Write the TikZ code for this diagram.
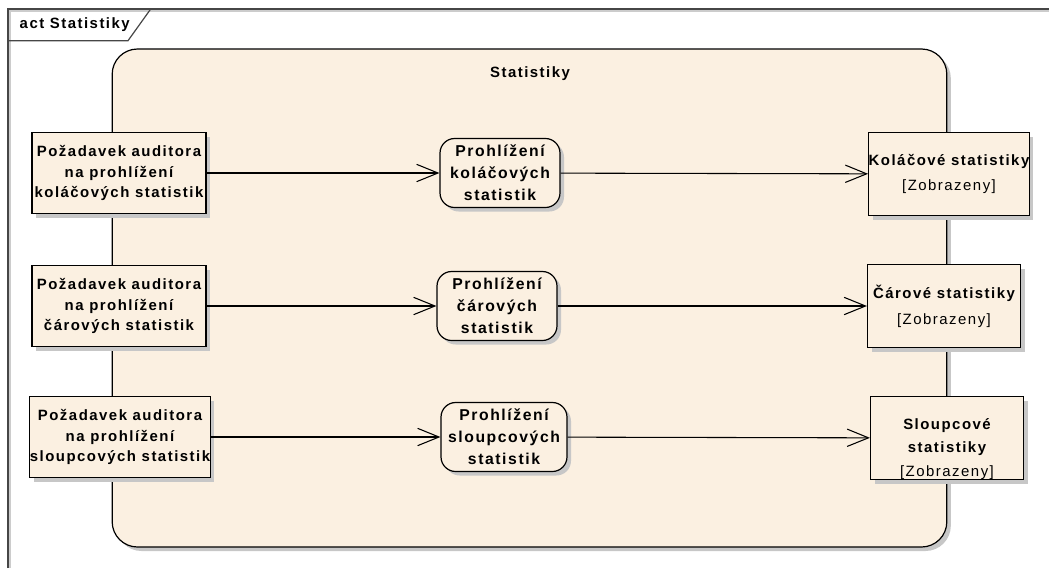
\documentclass[tikz,border=0pt]{standalone}
\usepackage{fontspec}
\setmainfont{Liberation Sans}[LetterSpace=10]
\usetikzlibrary{arrows.meta,shadows}
\definecolor{partfill}{RGB}{251,240,225}
\definecolor{framegray}{RGB}{70,70,70}
\newcommand\actfont{\fontsize{11.2pt}{15.4pt}\selectfont}
\newcommand\viewfont{\fontsize{11.8pt}{16.4pt}\selectfont}

\begin{document}
\begin{tikzpicture}[x=0.75pt,y=-0.75pt,
  shade/.style={drop shadow={shadow xshift=3pt,shadow yshift=-3pt,fill=black!22,opacity=1}},
  partition/.style={draw,line width=0.9pt,fill=partfill,rounded corners=19pt,minimum width=626pt,minimum height=373.5pt,shade},
  pin/.style={draw,line width=0.9pt,fill=partfill,inner sep=0pt,align=center,font=\actfont\bfseries,minimum width=130.5pt,minimum height=60.75pt,shade},
  action/.style={draw,line width=0.9pt,fill=partfill,rounded corners=11pt,inner sep=0pt,align=center,font=\viewfont\bfseries,minimum width=90pt,minimum height=51.75pt,shade},
  state/.style={draw,line width=0.9pt,fill=partfill,inner sep=0pt,align=center,font=\actfont\bfseries,minimum width=114.75pt,minimum height=62.25pt,shade},
  arr/.style={-{Straight Barb[length=16pt,width=13pt]},line width=0.8pt}]
\useasboundingbox (0,0) rectangle (1049,568);
% diagram frame with its name tab
\draw[black!20,line width=1.5pt] (10,568) -- (10,11) -- (1049,11);
\draw[framegray,line width=0.9pt] (8,568) -- (8,9) -- (1049,9);
\draw[framegray,line width=0.9pt] (8,40.7) -- (128,40.7) -- (150.7,9);
\node[font=\actfont\bfseries,anchor=west] (frametitle) at (15,25) {act Statistiky};
% activity partition
\node[partition] (stat) at (529.5,298) {};
\node[font=\actfont\bfseries] (stattitle) at (530,74) {Statistiky};
% input pins
\node[pin] (req1) at (119,173) {Požadavek auditora\\na prohlížení\\koláčových statistik};
\node[pin] (req2) at (119,306) {Požadavek auditora\\na prohlížení\\čárových statistik};
\node[pin] (req3) at (120,437) {Požadavek auditora\\na prohlížení\\sloupcových statistik};
% actions
\node[action] (view1) at (500,173) {Prohlížení\\koláčových\\statistik};
\node[action] (view2) at (497,306) {Prohlížení\\čárových\\statistik};
\node[action,minimum width=94.5pt] (view3) at (504,437) {Prohlížení\\sloupcových\\statistik};
% output pins
\node[state] (out1) at (949,174) {Koláčové statistiky\\[4pt]\mdseries [Zobrazeny]};
\node[state] (out2) at (944,306) {Čárové statistiky\\[4pt]\mdseries [Zobrazeny]};
\node[state] (out3) at (947,438) {};
\node[font=\actfont\bfseries,align=center] (out3txt) at (947,449) {Sloupcové\\[2pt]statistiky\\[2pt]\mdseries [Zobrazeny]};
% flows
\draw[arr] (req1) -- (view1); \draw[arr] (view1) -- (out1);
\draw[arr] (req2) -- (view2); \draw[arr] (view2) -- (out2);
\draw[arr] (req3) -- (view3); \draw[arr] (view3) -- (out3);
\end{tikzpicture}
\end{document}
